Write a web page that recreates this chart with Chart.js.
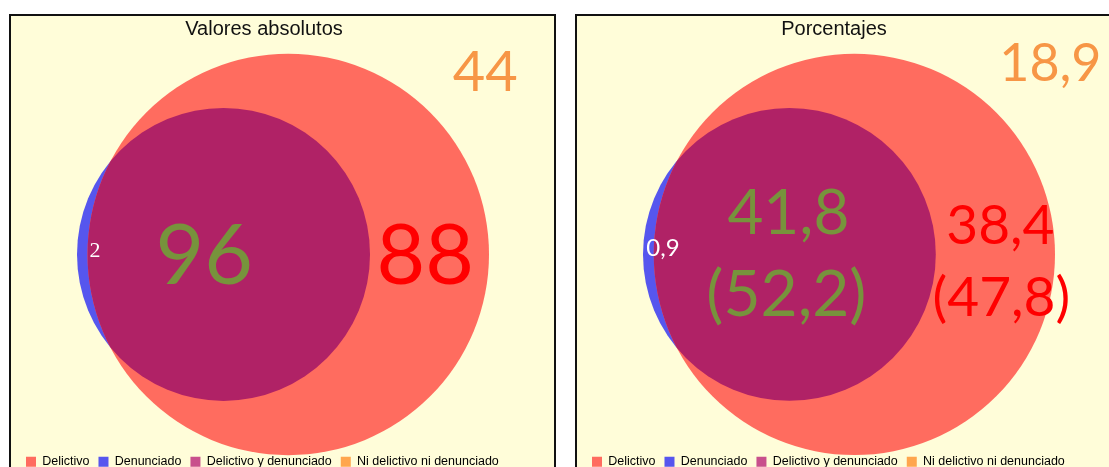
<!DOCTYPE html>
<html>
<head>
<meta charset="utf-8">
<script src="https://cdn.jsdelivr.net/npm/chart.js@4.4.1/dist/chart.umd.min.js"></script>
<style>
    body { margin: 0; width: 1109px; height: 467px; overflow: hidden; position: relative; background: #fff; }
    .panel { position: absolute; top: 14px; width: 543px; height: 470px; border: 2px solid #111; background: #fffdd9; }
    .panel canvas { display: block; }
    #p1 { left: 9px; }
    #p2 { left: 575px; }
</style>
</head>
<body>
<div class="panel" id="p1"><canvas id="c1" width="543" height="462"></canvas></div>
<div class="panel" id="p2"><canvas id="c2" width="543" height="462"></canvas></div>
<script>
const titles = ['Valores absolutos', 'Porcentajes'];
const legendLabels = ['Delictivo', 'Denunciado', 'Delictivo y denunciado', 'Ni delictivo ni denunciado'];
const legendColors = ['#ff6c5f', '#5656ee', '#c8508c', '#ffa64d'];

// solo delictivo, solo denunciado, delictivo y denunciado, ninguno
const absValues = [88, 2, 96, 44];
const pctValues = [38.4, 0.9, 41.8, 18.9];
// reparto dentro de "Delictivo": solo delictivo, delictivo y denunciado
const pctDelictivo = [47.8, 52.2];

const fmt = v => String(v).replace('.', ',');

const canvasW = 543;
const padLeft = 6;
const vennWidthPx = 412;   // ancho del diagrama
const vennCenterPx = 272;  // centro horizontal del diagrama en el canvas

// area of the lens between two circles at distance d
function lens(r1, r2, d) {
    const a1 = Math.acos((d * d + r1 * r1 - r2 * r2) / (2 * d * r1));
    const a2 = Math.acos((d * d + r2 * r2 - r1 * r1) / (2 * d * r2));
    return r1 * r1 * a1 + r2 * r2 * a2 - 0.5 * Math.sqrt((-d + r1 + r2) * (d + r1 - r2) * (d - r1 + r2) * (d + r1 + r2));
}

// area proportional venn: radius from set sizes, distance from the overlap
function vennLayout(v) {
    const r1 = Math.sqrt((v[0] + v[2]) / Math.PI);
    const r2 = Math.sqrt((v[1] + v[2]) / Math.PI);
    let lo = Math.abs(r1 - r2) + 1e-9, hi = r1 + r2;
    for (let i = 0; i < 80; i++) {
        const mid = (lo + hi) / 2;
        if (lens(r1, r2, mid) > v[2]) lo = mid; else hi = mid;
    }
    return { r1, r2, d: (lo + hi) / 2 };
}

const vennPlugin = {
    id: 'venn',
    afterDatasetsDraw(chart, args, opts) {
        const { ctx, scales: { x, y } } = chart;
        const red = chart.data.datasets[0].data[0];
        const blue = chart.data.datasets[1].data[0];
        const rp = v => Math.abs(x.getPixelForValue(v) - x.getPixelForValue(0));
        const cx = x.getPixelForValue(red.x), cy = y.getPixelForValue(red.y);
        const bx = x.getPixelForValue(blue.x), by = y.getPixelForValue(blue.y);

        // intersection
        ctx.save();
        ctx.beginPath();
        ctx.arc(cx, cy, rp(red.size), 0, Math.PI * 2);
        ctx.clip();
        ctx.beginPath();
        ctx.arc(bx, by, rp(blue.size), 0, Math.PI * 2);
        ctx.fillStyle = '#b02266';
        ctx.fill();
        ctx.restore();

        const blueLeft = bx - rp(blue.size);
        ctx.save();
        ctx.textAlign = 'center';
        ctx.textBaseline = 'alphabetic';
        opts.labels.forEach(l => {
            ctx.font = l.font;
            ctx.fillStyle = l.color;
            const ox = l.fromBlue ? blueLeft : cx;
            ctx.fillText(l.text, ox + l.dx, cy + l.dy);
        });
        ctx.restore();
    }
};

function makePanel(id, title, values, padRight, labels) {
    const g = vennLayout(values);
    const xmin = -g.d - g.r2, xmax = g.r1;
    const mid = (xmin + xmax) / 2;
    const s = vennWidthPx / (xmax - xmin);
    const radius = c => {
        if (!c.raw) return 0;
        const sc = c.chart.scales.x;
        return Math.abs(sc.getPixelForValue(c.raw.size) - sc.getPixelForValue(0));
    };

    new Chart(document.getElementById(id), {
        type: 'scatter',
        data: {
            datasets: [
                { label: legendLabels[0], data: [{ x: 0, y: 0, size: g.r1 }], pointBackgroundColor: legendColors[0] },
                { label: legendLabels[1], data: [{ x: -g.d, y: 0, size: g.r2 }], pointBackgroundColor: legendColors[1] }
            ]
        },
        options: {
            responsive: false,
            animation: false,
            events: [],
            layout: { padding: { left: padLeft, right: padRight, top: 0, bottom: 0 } },
            datasets: { scatter: { clip: false, pointRadius: radius, pointBorderWidth: 0, showLine: false } },
            scales: {
                x: {
                    display: false,
                    min: mid - (vennCenterPx - padLeft) / s,
                    max: mid + (canvasW - padRight - vennCenterPx) / s
                },
                y: { display: false, min: -0.9, max: 1 }
            },
            plugins: {
                title: {
                    display: true, text: title, color: '#111',
                    font: { family: 'Liberation Sans', size: 20, weight: 'normal' },
                    padding: { top: 1, bottom: 0 }
                },
                legend: {
                    position: 'bottom', align: 'start',
                    labels: {
                        color: '#222', boxWidth: 10, boxHeight: 10, padding: 9,
                        font: { family: 'Liberation Sans', size: 12.5 },
                        generateLabels: () => legendLabels.map((t, i) => ({
                            text: t, fillStyle: legendColors[i], strokeStyle: legendColors[i], lineWidth: 0, hidden: false
                        }))
                    }
                },
                tooltip: { enabled: false },
                venn: { labels: labels }
            }
        },
        plugins: [vennPlugin]
    });
}

makePanel('c1', titles[0], absValues, 43, [
    { text: fmt(absValues[1]), font: '22px "Liberation Serif"', color: '#fff', fromBlue: true, dx: 18, dy: 3 },
    { text: fmt(absValues[2]), font: '84px Lato', color: '#77933c', dx: -84, dy: 30 },
    { text: fmt(absValues[0]), font: '84px Lato', color: '#ff0000', dx: 137, dy: 30 },
    { text: fmt(absValues[3]), font: '56px Lato', color: '#f79646', dx: 197, dy: -163 }
]);

makePanel('c2', titles[1], pctValues, 35, [
    { text: fmt(pctValues[1]), font: '24px Lato', color: '#fff', fromBlue: true, dx: 20, dy: 2 },
    { text: fmt(pctValues[2]), font: '62px Lato', color: '#77933c', dx: -66, dy: -20 },
    { text: '(' + fmt(pctDelictivo[1]) + ')', font: '64px Lato', color: '#77933c', dx: -68, dy: 62 },
    { text: fmt(pctValues[0]), font: '55px Lato', color: '#ff0000', dx: 146, dy: -10 },
    { text: '(' + fmt(pctDelictivo[0]) + ')', font: '55px Lato', color: '#ff0000', dx: 147, dy: 62 },
    { text: fmt(pctValues[3]), font: '52px Lato', color: '#f79646', dx: 196, dy: -173 }
]);
</script>
</body>
</html>
